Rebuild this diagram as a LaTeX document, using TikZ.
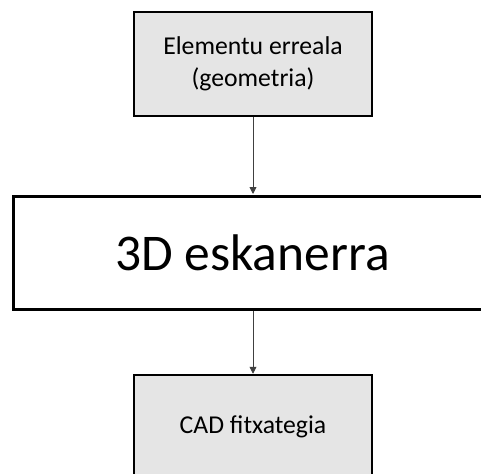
\documentclass[tikz,border=0pt]{standalone}
\usepackage{fontspec}
\setmainfont{Carlito}
\usetikzlibrary{arrows.meta}
\begin{document}
\begin{tikzpicture}[x=1pt,y=-1pt,
  graybox/.style={draw=black, line width=1.5pt, fill=black!10, minimum width=238pt, minimum height=104pt, align=center, inner sep=0pt},
  scanbox/.style={draw=black, line width=3pt, fill=white, minimum width=478pt, minimum height=113pt, inner sep=0pt},
  boxtext/.style={font=\fontsize{25.7}{32}\selectfont},
  flow/.style={draw=black!75, line width=0.9pt, -{Triangle[length=7pt,width=7pt]}, shorten >=0.5pt}]
  \useasboundingbox (0,0) rectangle (481,473);
  \begin{scope}
    \clip (0,0) rectangle (481,473);
    \node[graybox, boxtext] (real) at (253,64) {Elementu erreala\\(geometria)};
    \node[scanbox, font=\fontsize{51.5}{60}\selectfont] (scan) at (252.5,252.5) {3D eskanerra};
    \node[graybox, boxtext] (cad) at (253,427) {CAD fitxategia};
    \draw[flow] (real.south) -- (real.south |- scan.north);
    \draw[flow] (real.south |- scan.south) -- (cad.north);
  \end{scope}
\end{tikzpicture}
\end{document}
